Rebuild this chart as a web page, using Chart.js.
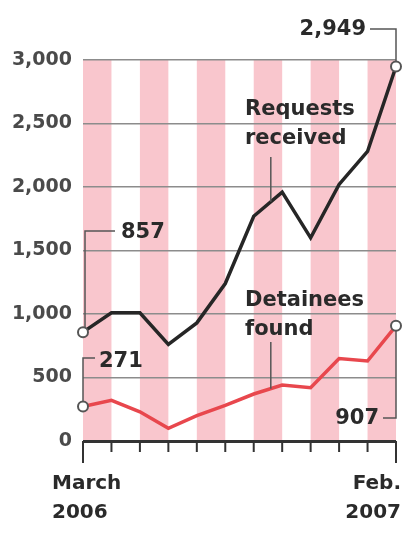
<!DOCTYPE html>
<html>
<head>
<meta charset="utf-8">
<script src="https://cdn.jsdelivr.net/npm/chart.js@4.4.0/dist/chart.umd.min.js"></script>
<style>
  html, body { margin: 0; padding: 0; background: #fff; }
  #wrap { width: 405px; height: 536px; }
</style>
</head>
<body>
<div id="wrap"><canvas id="c" width="405" height="536"></canvas></div>
<script>
const months = ['Mar', 'Apr', 'May', 'Jun', 'Jul', 'Aug', 'Sep', 'Oct', 'Nov', 'Dec', 'Jan', 'Feb'];
const requests = [857, 1010, 1010, 760, 930, 1240, 1770, 1960, 1600, 2020, 2280, 2949];
const detainees = [271, 320, 230, 100, 200, 280, 370, 440, 420, 650, 630, 907];
const firstLabel = ['March', '2006'];
const lastLabel = ['Feb.', '2007'];

const FONT = '"DejaVu Sans", sans-serif';
const INK = '#2a2a2a';
const last = months.length - 1;
const endsOnly = ctx => (ctx.dataIndex === 0 || ctx.dataIndex === last) ? 5 : 0;

const decor = {
  id: 'decor',
  beforeDraw(chart) {
    const { ctx, chartArea: a, scales: { x } } = chart;
    ctx.save();
    // alternating month bands
    for (let i = 0; i < last; i += 2) {
      const x0 = x.getPixelForValue(i), x1 = x.getPixelForValue(i + 1);
      ctx.fillStyle = '#f9c6cd';
      ctx.fillRect(x0, a.top, x1 - x0, a.bottom - a.top);
    }
    ctx.restore();
  },
  afterDatasetsDraw(chart) {
    const { ctx, chartArea: a, scales: { x, y } } = chart;
    const px = i => x.getPixelForValue(i);
    ctx.save();
    // axis ticks
    ctx.strokeStyle = '#333';
    ctx.lineWidth = 2;
    months.forEach((m, i) => {
      const len = (i === 0 || i === last) ? 22 : 11;
      ctx.beginPath();
      ctx.moveTo(px(i), a.bottom);
      ctx.lineTo(px(i), a.bottom + len);
      ctx.stroke();
    });
    // x labels
    ctx.fillStyle = INK;
    ctx.font = 'bold 20px ' + FONT;
    ctx.textBaseline = 'middle';
    ctx.textAlign = 'left';
    ctx.fillText(firstLabel[0], px(0) - 31, a.bottom + 43);
    ctx.fillText(firstLabel[1], px(0) - 31, a.bottom + 72);
    ctx.textAlign = 'right';
    ctx.fillText(lastLabel[0], px(last) + 5, a.bottom + 43);
    ctx.fillText(lastLabel[1], px(last) + 5, a.bottom + 72);

    // callout brackets
    ctx.strokeStyle = '#555';
    ctx.lineWidth = 1.5;
    const bracket = pts => {
      ctx.beginPath();
      ctx.moveTo(pts[0][0], pts[0][1]);
      pts.slice(1).forEach(p => ctx.lineTo(p[0], p[1]));
      ctx.stroke();
    };
    const rEnd = y.getPixelForValue(requests[last]);
    const rStart = y.getPixelForValue(requests[0]);
    const dStart = y.getPixelForValue(detainees[0]);
    const dEnd = y.getPixelForValue(detainees[last]);
    bracket([[px(last) - 26, 29], [px(last), 29], [px(last), rEnd - 5]]);
    bracket([[px(0) + 32, 231], [px(0) + 2, 231], [px(0) + 2, rStart - 5]]);
    bracket([[px(0) + 12, 358], [px(0), 358], [px(0), dStart - 5]]);
    bracket([[px(last) - 13, 418], [px(last), 418], [px(last), dEnd + 5]]);

    ctx.fillStyle = INK;
    ctx.font = 'bold 21px ' + FONT;
    ctx.textAlign = 'right';
    ctx.fillText(requests[last].toLocaleString('en-US'), px(last) - 30, 30);
    ctx.fillText(detainees[last].toLocaleString('en-US'), px(last) - 17, 419);
    ctx.textAlign = 'left';
    ctx.fillText(requests[0].toLocaleString('en-US'), px(0) + 38, 233);
    ctx.fillText(detainees[0].toLocaleString('en-US'), px(0) + 16, 362);

    // series labels with pointers
    ctx.font = 'bold 21px ' + FONT;
    ctx.fillText('Requests', 245, 110);
    ctx.fillText('received', 245, 139);
    ctx.fillText('Detainees', 245, 301);
    ctx.fillText('found', 245, 330);
    const at = (arr, f) => {
      const i = Math.floor(f), t = f - i;
      return { x: px(i) + (px(i + 1) - px(i)) * t, y: y.getPixelForValue(arr[i]) + (y.getPixelForValue(arr[i + 1]) - y.getPixelForValue(arr[i])) * t };
    };
    const p1 = at(requests, 6.6), p2 = at(detainees, 6.6);
    bracket([[p1.x, 157], [p1.x, p1.y]]);
    bracket([[p2.x, 342], [p2.x, p2.y]]);
    ctx.restore();
  }
};

new Chart(document.getElementById('c'), {
  type: 'line',
  data: {
    labels: months,
    datasets: [
      { label: 'Detainees found', data: detainees, borderColor: '#e8474d', borderWidth: 3.5, tension: 0,
        pointRadius: endsOnly, pointBackgroundColor: '#fff', pointBorderColor: '#555', pointBorderWidth: 2 },
      { label: 'Requests received', data: requests, borderColor: '#262626', borderWidth: 3.5, tension: 0,
        pointRadius: endsOnly, pointBackgroundColor: '#fff', pointBorderColor: '#555', pointBorderWidth: 2 },
    ],
  },
  options: {
    responsive: false,
    animation: false,
    events: [],
    layout: { padding: { top: 60, bottom: 95, right: 9, left: 0 } },
    plugins: { legend: { display: false }, tooltip: { enabled: false } },
    scales: {
      x: { display: false, offset: false },
      y: {
        min: 0, max: 3000,
        border: { display: false },
        grid: {
          drawTicks: false,
          color: c => c.tick && c.tick.value === 0 ? '#333' : '#8c8c8c',
          lineWidth: c => c.tick && c.tick.value === 0 ? 3 : 1.5,
        },
        ticks: {
          stepSize: 500, padding: 11, color: '#4a4a4a',
          font: { family: FONT, size: 19, weight: 'bold' },
          callback: v => v.toLocaleString('en-US'),
        },
        afterFit: s => { s.width = 83; },
      },
    },
  },
  plugins: [decor],
});
</script>
</body>
</html>
